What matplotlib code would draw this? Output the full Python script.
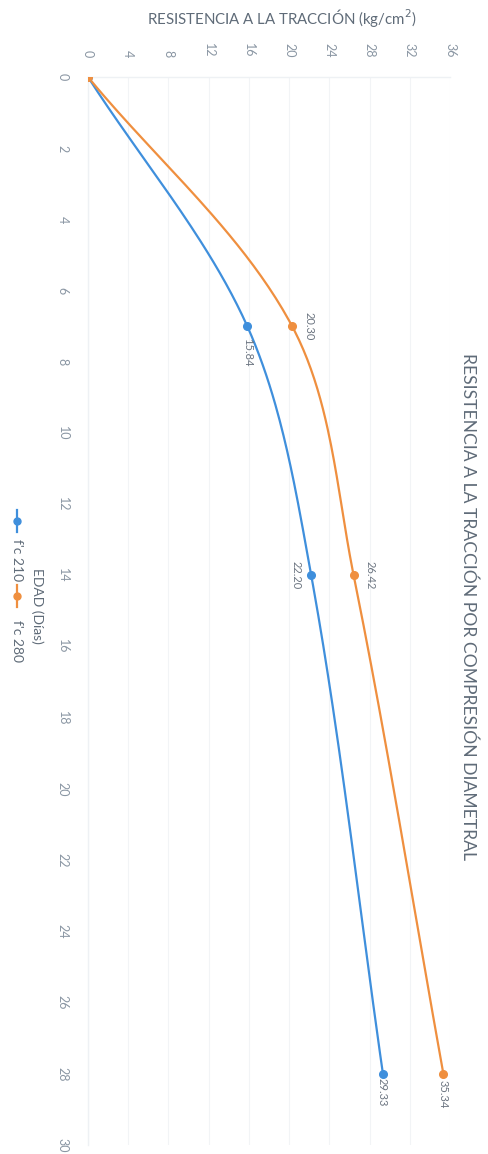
import numpy as np
import matplotlib.pyplot as plt
from matplotlib.lines import Line2D

# data (edad en dias, resistencia kg/cm2)
edad = [0, 7, 14, 28]
fc210 = [0, 15.84, 22.20, 29.33]
fc280 = [0, 20.30, 26.42, 35.34]
series_names = ["f'c 210", "f'c 280"]
res_ticks = list(range(0, 37, 4))
edad_ticks = list(range(0, 31, 2))

blue = '#3f8fdc'
orange = '#ef8f3f'
grey = '#5f6b78'
tick_grey = '#8a96a3'

plt.rcParams['font.family'] = ['Lato', 'DejaVu Sans']


def smooth(xs, ys, sx, sy, k=0.33, n=50):
    # smoothed line through the points (bezier, tangents by chord length, screen scale)
    p = np.column_stack([np.array(xs) * sx, np.array(ys) * sy]).astype(float)
    m = len(p)
    tan = []
    for i in range(m):
        d = p[min(i + 1, m - 1)] - p[max(i - 1, 0)]
        tan.append(d / np.linalg.norm(d))
    out = []
    t = np.linspace(0, 1, n)[:, None]
    for i in range(m - 1):
        L = np.linalg.norm(p[i + 1] - p[i])
        c1 = p[i] + tan[i] * L * k
        c2 = p[i + 1] - tan[i + 1] * L * k
        seg = (1 - t) ** 3 * p[i] + 3 * (1 - t) ** 2 * t * c1 + 3 * (1 - t) * t ** 2 * c2 + t ** 3 * p[i + 1]
        out.append(seg)
    out = np.vstack(out)
    return out[:, 0] / sx, out[:, 1] / sy


fig = plt.figure(figsize=(4.89, 11.54), dpi=100)
ax = fig.add_axes([88 / 489, 1 - 1145 / 1154, (450 - 88) / 489, (1145 - 77) / 1154])

# chart is drawn turned a quarter turn: resistance across, age downwards
for vals, col in [(fc210, blue), (fc280, orange)]:
    ex, ry = smooth(edad, vals, 1068 / 30, 362 / 36)
    ax.plot(ry, ex, color=col, lw=1.6, zorder=3)
    ax.plot(vals, edad, 'o', color=col, ms=5.5, zorder=4)

# data labels
lab = dict(rotation=-90, ha='center', va='center', fontsize=8, color='#6b7480',
           textcoords='offset points')
for e, v in zip(edad[1:], fc210[1:]):
    if e == 14:
        ax.annotate('%.2f' % v, (v, e), xytext=(-11, 0), **lab)
    elif e == 7:
        ax.annotate('%.2f' % v, (v, e), xytext=(0, -19), **lab)
    else:
        ax.annotate('%.2f' % v, (v, e), xytext=(-1, -13), **lab)
for e, v in zip(edad[1:], fc280[1:]):
    if e == 28:
        ax.annotate('%.2f' % v, (v, e), xytext=(0, -15), **lab)
    else:
        ax.annotate('%.2f' % v, (v, e), xytext=(12, 0), **lab)

ax.set_xlim(0, 36)
ax.set_ylim(30, 0)
ax.set_xticks(res_ticks)
ax.set_yticks(edad_ticks)
ax.xaxis.tick_top()
ax.set_xticklabels([str(t) for t in res_ticks], rotation=-90, fontsize=9, color=tick_grey)
ax.set_yticklabels([str(t) for t in edad_ticks], rotation=-90, fontsize=9, color=tick_grey, va='center')
ax.tick_params(length=0, pad=14)
ax.tick_params(axis='x', pad=14)
ax.grid(axis='x', color='#f2f4f6', lw=0.8)
for s in ['right', 'bottom']:
    ax.spines[s].set_visible(False)
for s in ['left', 'top']:
    ax.spines[s].set_color('#eef1f4')
    ax.spines[s].set_linewidth(1.0)

fig.text(282 / 489, 1 - 18 / 1154, 'RESISTENCIA A LA TRACCIÓN (kg/cm$^2$)',
         ha='center', va='center', fontsize=10.8, color=grey)
fig.text(468 / 489, 1 - 607 / 1154, 'RESISTENCIA A LA TRACCIÓN POR COMPRESIÓN DIAMETRAL',
         rotation=-90, ha='center', va='center', fontsize=12.6, color=grey)
fig.text(37 / 489, 1 - 606 / 1154, 'EDAD (Días)', rotation=-90,
         ha='center', va='center', fontsize=10, color=grey)

# legend, turned like the chart
for (y0, y1, yt), col, name in [((510, 532, 560), blue, series_names[0]),
                                 ((585, 607, 641), orange, series_names[1])]:
    fig.add_artist(Line2D([17 / 489, 17 / 489], [1 - y0 / 1154, 1 - y1 / 1154], color=col, lw=1.6,
                          transform=fig.transFigure))
    fig.add_artist(Line2D([17 / 489], [1 - (y0 + y1) / 2 / 1154], marker='o', ms=5, color=col,
                          transform=fig.transFigure))
    fig.text(17 / 489, 1 - yt / 1154, name, rotation=-90, ha='center', va='center',
             fontsize=10, color=grey)

fig.savefig('out.png', dpi=100)
